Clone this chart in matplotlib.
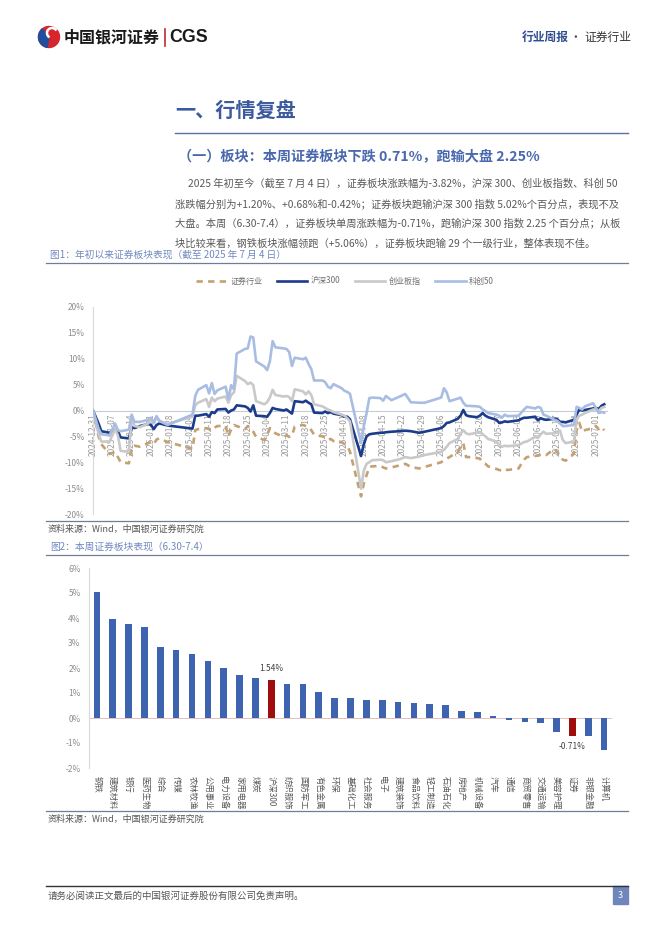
import matplotlib
matplotlib.use('Agg')
import matplotlib.pyplot as plt
import matplotlib.patches as mpatches
import pandas as pd

plt.rcParams['font.family'] = ['Noto Sans CJK SC', 'DejaVu Sans']

# ---- 图1 数据：年初以来累计涨跌幅 (%) ----
trade_dates = ['2024-12-31', '2025-01-02', '2025-01-03', '2025-01-06', '2025-01-08', '2025-01-09',
               '2025-01-10', '2025-01-13', '2025-01-14', '2025-01-15', '2025-01-17', '2025-01-20',
               '2025-01-21', '2025-01-22', '2025-01-23', '2025-01-24', '2025-01-27', '2025-02-05',
               '2025-02-06', '2025-02-07', '2025-02-10', '2025-02-11', '2025-02-12', '2025-02-13',
               '2025-02-14', '2025-02-17', '2025-02-18', '2025-02-19', '2025-02-20', '2025-02-21',
               '2025-02-24', '2025-02-25', '2025-02-26', '2025-02-27', '2025-02-28', '2025-03-03',
               '2025-03-04', '2025-03-05', '2025-03-06', '2025-03-07', '2025-03-10', '2025-03-11',
               '2025-03-12', '2025-03-13', '2025-03-14', '2025-03-17', '2025-03-18', '2025-03-19',
               '2025-03-20', '2025-03-21', '2025-03-24', '2025-03-25', '2025-03-26', '2025-03-27',
               '2025-03-28', '2025-03-31', '2025-04-01', '2025-04-02', '2025-04-03', '2025-04-07',
               '2025-04-08', '2025-04-09', '2025-04-10', '2025-04-11', '2025-04-14', '2025-04-15',
               '2025-04-16', '2025-04-18', '2025-04-21', '2025-04-23', '2025-04-25', '2025-04-28',
               '2025-04-30', '2025-05-06', '2025-05-07', '2025-05-08', '2025-05-09', '2025-05-12',
               '2025-05-13', '2025-05-14', '2025-05-15', '2025-05-16', '2025-05-19', '2025-05-20',
               '2025-05-21', '2025-05-22', '2025-05-23', '2025-05-26', '2025-05-27', '2025-05-28',
               '2025-05-29', '2025-05-30', '2025-06-03', '2025-06-04', '2025-06-05', '2025-06-06',
               '2025-06-09', '2025-06-10', '2025-06-11', '2025-06-12', '2025-06-13', '2025-06-16',
               '2025-06-17', '2025-06-18', '2025-06-19', '2025-06-20', '2025-06-23', '2025-06-24',
               '2025-06-25', '2025-06-26', '2025-06-27', '2025-06-30', '2025-07-01', '2025-07-02',
               '2025-07-03', '2025-07-04']

zq = [0, -5.0, -6.5, -8.4, -8.0, -9.0, -10.0, -10.2, -7.0, -6.8, -7.0, -6.3,
      -6.1, -6.5, -5.6, -5.4, -6.1, -7.4, -3.8, -3.6, -3.4, -3.6, -3.1, -3.3,
      -3.0, -3.0, -5.0, -3.6, -2.8, -3.0, -3.6, -3.0, -3.4, -4.1, -5.1, -5.7,
      -4.8, -3.4, -4.0, -4.4, -5.1, -4.8, -5.1, -4.9, -3.1, -2.8, -3.0, -3.2,
      -3.8, -4.7, -5.0, -5.2, -5.7, -5.5, -5.9, -6.1, -6.5, -6.8, -8.0, -16.6,
      -14.1, -12.5, -10.9, -10.8, -10.7, -11.0, -11.2, -11.0, -10.6, -10.3, -10.9, -11.2,
      -10.9, -10.0, -9.6, -9.3, -9.0, -8.0, -7.0, -6.3, -9.0, -9.0, -9.2, -9.3,
      -10.0, -10.3, -10.8, -11.3, -11.5, -11.6, -11.3, -11.5, -11.2, -10.3, -9.5, -9.0,
      -8.8, -8.7, -8.5, -8.4, -8.6, -7.4, -8.0, -8.9, -9.5, -9.7, -8.4, -3.8,
      -2.4, -4.1, -3.8, -3.4, -3.0, -3.6, -3.2, -3.82]

hs300 = [0, -2.5, -4.0, -4.3, -3.6, -4.0, -5.2, -5.4, -3.2, -3.4, -3.0, -2.6,
         -2.8, -3.6, -2.8, -2.5, -2.9, -3.5, -1.0, -1.0, -0.7, -1.2, -0.3, -0.5,
         0.2, 0.3, -0.4, 0.0, 0.2, 1.0, 0.8, 0.5, -0.2, 1.0, -1.0, -1.1,
         -1.2, -0.5, 0.5, 0.3, 0.0, 0.2, -0.2, -0.6, 1.8, 1.6, 1.9, 1.5,
         1.2, -0.4, -0.5, -0.2, -0.5, -0.3, -0.6, -0.9, -1.2, -1.2, -1.7, -8.8,
         -6.5, -5.0, -4.6, -4.5, -4.3, -4.3, -4.2, -4.1, -4.0, -3.9, -4.0, -4.3,
         -4.1, -3.4, -3.0, -2.4, -2.3, -1.6, -1.0, 0.1, -0.9, -1.1, -1.3, -1.0,
         -0.5, -1.0, -1.3, -1.8, -2.4, -2.3, -2.1, -2.2, -1.9, -1.6, -1.4, -1.4,
         -1.2, -1.9, -1.5, -1.7, -1.8, -1.6, -1.7, -2.2, -2.2, -2.3, -1.8, -0.8,
         0.2, 0.0, 0.1, 0.4, 0.5, 0.3, 0.9, 1.20]

cyb = [0, -4.5, -6.0, -6.0, -3.6, -4.8, -7.8, -8.0, -1.3, -3.0, -3.2, -2.5,
       -1.6, -2.5, -1.3, -2.0, -2.6, -1.2, 1.0, 1.5, 2.2, 0.7, 2.5, 1.8,
       2.3, 2.7, 1.5, 3.0, 3.5, 6.7, 5.7, 5.1, 5.4, 4.9, 1.8, 1.2,
       1.6, 2.5, 4.0, 3.0, 2.7, 2.8, 2.6, 1.8, 4.1, 3.7, 3.1, 3.7,
       3.0, 1.2, 0.8, 0.5, 0.2, 0.0, -0.3, -0.8, -1.0, -1.5, -2.1, -15.1,
       -11.6, -10.3, -10.0, -9.6, -9.5, -9.6, -10.0, -9.8, -9.4, -9.0, -9.2, -8.9,
       -8.6, -8.0, -7.6, -7.0, -6.3, -5.5, -4.5, -3.8, -4.4, -4.6, -4.3, -4.1,
       -4.6, -5.0, -5.5, -6.0, -6.6, -7.0, -6.8, -6.9, -6.7, -6.4, -6.1, -6.0,
       -5.1, -5.3, -4.6, -4.1, -4.5, -4.4, -4.2, -3.9, -5.7, -6.3, -6.0, -1.8,
       -1.0, -0.8, -0.5, 0.2, 0.2, -0.1, 0.5, 0.68]

kc50 = [0, -3.5, -4.6, -4.8, -2.5, -3.8, -4.0, -3.7, -0.8, -2.2, -2.2, -1.8,
        -1.4, -2.3, -1.1, -2.0, -2.8, -0.8, 2.8, 4.0, 4.9, 3.3, 5.3, 3.2,
        3.9, 4.6, 2.2, 4.9, 4.1, 11.0, 11.9, 12.0, 14.3, 14.1, 9.5, 8.5,
        7.8, 9.5, 13.4, 12.2, 12.0, 11.9, 11.3, 8.6, 10.2, 9.9, 10.2, 9.0,
        8.0, 5.8, 5.8, 5.5, 4.6, 4.3, 5.1, 4.3, 3.8, 3.6, 3.2, -6.3,
        -3.0, -0.5, 2.4, 2.5, 2.4, 1.9, 2.8, 2.0, 2.7, 3.2, 1.6, 1.5,
        1.5, 2.5, 4.3, 3.5, 1.8, 2.3, 2.5, 1.5, 0.9, 0.9, 0.8, 0.7,
        0.2, -0.1, -0.5, -0.8, -1.0, -1.4, -0.8, -1.1, -1.0, -0.4, 0.2, 0.7,
        0.4, 0.7, 0.5, -0.8, -1.0, -1.8, -2.0, -2.5, -3.0, -3.0, -2.8, 0.7,
        0.5, 0.2, 0.8, 1.4, 0.5, -0.5, -0.3, -0.42]

# ---- 图2 数据：本周申万一级行业涨跌幅 (%) ----
industries = ['钢铁', '建筑材料', '银行', '医药生物', '综合', '传媒', '农林牧渔', '公用事业',
              '电力设备', '家用电器', '煤炭', '沪深300', '纺织服饰', '国防军工', '有色金属', '环保',
              '基础化工', '社会服务', '电子', '建筑装饰', '食品饮料', '轻工制造', '石油石化', '房地产',
              '机械设备', '汽车', '通信', '商贸零售', '交通运输', '美容护理', '证券', '非银金融', '计算机']
week_chg = [5.06, 3.96, 3.76, 3.64, 2.83, 2.71, 2.56, 2.27, 1.99, 1.74, 1.60, 1.54, 1.37, 1.36,
            1.03, 0.80, 0.79, 0.73, 0.73, 0.63, 0.61, 0.57, 0.51, 0.28, 0.25, 0.09, -0.09, -0.17,
            -0.21, -0.56, -0.71, -0.73, -1.28]
highlight = ['沪深300', '证券']

W, H = 662, 936
fig = plt.figure(figsize=(W / 100, H / 100), dpi=100)


def box(x0, y0, x1, y1):
    return [x0 / W, 1 - y1 / H, (x1 - x0) / W, (y1 - y0) / H]


# 页面元素（像素坐标）
page = fig.add_axes([0, 0, 1, 1])
page.set_xlim(0, W)
page.set_ylim(H, 0)
page.axis('off')

# logo
page.add_patch(mpatches.Circle((49, 37), 10.5, color='#d7262b'))
page.add_patch(mpatches.Wedge((49, 37), 10.5, 100, 230, color='#1f4e9c'))
page.add_patch(mpatches.Arc((52, 33), 10, 10, theta1=120, theta2=330, color='white', lw=1.8))
page.text(64, 37, '中国银河证券', fontsize=11.5, fontweight='bold', va='center', color='#1a1a1a')
page.plot([165, 165], [29, 46], color='#c0282d', lw=1.2)
page.text(169, 37.5, 'CGS', fontsize=12.8, fontweight='bold', va='center', color='#1a1a1a',
          family='Liberation Sans')
page.text(522, 37, '行业周报', fontsize=8.5, fontweight='bold', va='center', color='#2f4f8f')
page.text(575, 37, '·', fontsize=8.5, ha='center', va='center', color='#555555')
page.text(584, 37, '证券行业', fontsize=8.5, va='center', color='#333333')

# 标题与正文
page.text(175, 110, '一、行情复盘', fontsize=14.5, fontweight='bold', va='center', color='#3d5a9e')
page.plot([175, 628], [133, 133], color='#5d6fa3', lw=1)
page.text(178, 157, '（一）板块：本周证券板块下跌 0.71%，跑输大盘 2.25%', fontsize=10.2,
          fontweight='bold', va='center', color='#4a68ad')
para = ['2025 年初至今（截至 7 月 4 日），证券板块涨跌幅为-3.82%，沪深 300、创业板指数、科创 50',
        '涨跌幅分别为+1.20%、+0.68%和-0.42%；证券板块跑输沪深 300 指数 5.02%个百分点，表现不及',
        '大盘。本周（6.30-7.4），证券板块单周涨跌幅为-0.71%，跑输沪深 300 指数 2.25 个百分点；从板',
        '块比较来看，钢铁板块涨幅领跑（+5.06%），证券板块跑输 29 个一级行业，整体表现不佳。']
for i, s in enumerate(para):
    page.text(188 if i == 0 else 175, 184 + i * 19.7, s, fontsize=7.4, va='center', color='#595959')

cap_color = '#7088c0'
page.text(50, 255, '图1：年初以来证券板块表现（截至 2025 年 7 月 4 日）', fontsize=7, va='center', color=cap_color)
page.plot([46, 628], [263, 263], color='#6f7d99', lw=0.9)
page.plot([46, 628], [521, 521], color='#6f7d99', lw=0.9)
page.text(48, 529, '资料来源：Wind，中国银河证券研究院', fontsize=6.5, va='center', color='#555555')
page.text(50, 547, '图2：本周证券板块表现（6.30-7.4）', fontsize=7, va='center', color=cap_color)
page.plot([46, 628], [555, 555], color='#6f7d99', lw=0.9)
page.plot([46, 628], [811, 811], color='#6f7d99', lw=0.9)
page.text(48, 819, '资料来源：Wind，中国银河证券研究院', fontsize=6.5, va='center', color='#555555')

# 页脚
page.plot([46, 628], [886, 886], color='#333333', lw=1)
page.text(48, 896, '请务必阅读正文最后的中国银河证券股份有限公司免责声明。', fontsize=6.8, va='center', color='#555555')
page.add_patch(mpatches.Rectangle((613, 886), 15, 18, color='#6f86bd'))
page.text(620.5, 895, '3', fontsize=6.5, ha='center', va='center', color='white')

# ---- 图1：折线图 ----
ax = fig.add_axes(box(93, 307, 607, 514))
ax.patch.set_alpha(0)
ax.spines['bottom'].set_position(('data', 0))   # 横轴交于0，先设，否则会重置刻度样式
ax.spines['bottom'].set_color('#c5cbd8')
ax.spines['left'].set_color('#d9d9d9')
ax.spines['top'].set_visible(False)
ax.spines['right'].set_visible(False)
d = pd.to_datetime(trade_dates)
ax.plot(d, zq, color='#c4a172', lw=1.9, dashes=(2.4, 2.0), zorder=3, label='证券行业')
ax.plot(d, hs300, color='#1b3b8c', lw=1.9, zorder=3, label='沪深300')
ax.plot(d, cyb, color='#c9c9c9', lw=1.9, zorder=3, label='创业板指')
ax.plot(d, kc50, color='#a9bde3', lw=1.9, zorder=3, label='科创50')
ax.set_xlim(pd.Timestamp('2024-12-31'), pd.Timestamp('2025-07-05'))
ax.set_ylim(-20, 20)
ticks = pd.date_range('2024-12-31', '2025-07-01', freq='7D')
ax.set_xticks(ticks)
ax.set_xticklabels([t.strftime('%Y-%m-%d') for t in ticks])
plt.setp(ax.get_xticklabels(), rotation=90, ha='center', va='top', fontsize=6, color='#9a9a9a')
ax.set_yticks(range(-20, 21, 5))
ax.set_yticklabels([f'{v}%' for v in range(-20, 21, 5)], fontsize=6, color='#8c8c8c')
ax.tick_params(length=0, pad=2)
ax.tick_params(axis='y', pad=6)
ax.legend(loc='center', bbox_to_anchor=(345 / W, 1 - 281 / H), bbox_transform=fig.transFigure,
          ncol=4, frameon=False, fontsize=5.8, handlelength=3.8, columnspacing=1.8, handletextpad=0.4,
          labelcolor='#6e6e6e')

# ---- 图2：柱状图 ----
ax2 = fig.add_axes(box(89, 568, 612, 768))
ax2.patch.set_alpha(0)
x = range(len(industries))
colors = ['#a00d0d' if n in highlight else '#3e63b0' for n in industries]
ax2.bar(x, week_chg, width=0.42, color=colors, zorder=3)
ax2.axhline(0, color='#e3c0c0', lw=0.7, zorder=2)
ax2.set_xlim(-0.5, len(industries) - 0.5)
ax2.set_ylim(-2, 6)
ax2.set_yticks(range(-2, 7))
ax2.set_yticklabels([f'{v}%' for v in range(-2, 7)], fontsize=6, color='#8c8c8c')
ax2.set_xticks(list(x))
ax2.set_xticklabels(industries)
plt.setp(ax2.get_xticklabels(), rotation=-90, ha='center', va='top', fontsize=6, color='#595959')
ax2.tick_params(length=0)
ax2.tick_params(axis='x', pad=6)
ax2.tick_params(axis='y', pad=6)
for side in ['top', 'right', 'bottom']:
    ax2.spines[side].set_visible(False)
ax2.spines['left'].set_color('#d9d9d9')
i_hs = industries.index('沪深300')
i_zq = industries.index('证券')
ax2.text(i_hs, week_chg[i_hs] + 0.25, f'{week_chg[i_hs]:.2f}%', ha='center', va='bottom', fontsize=6, color='#404040')
ax2.text(i_zq, week_chg[i_zq] - 0.25, f'{week_chg[i_zq]:.2f}%', ha='center', va='top', fontsize=6, color='#404040')

fig.savefig('out.png', dpi=100)
